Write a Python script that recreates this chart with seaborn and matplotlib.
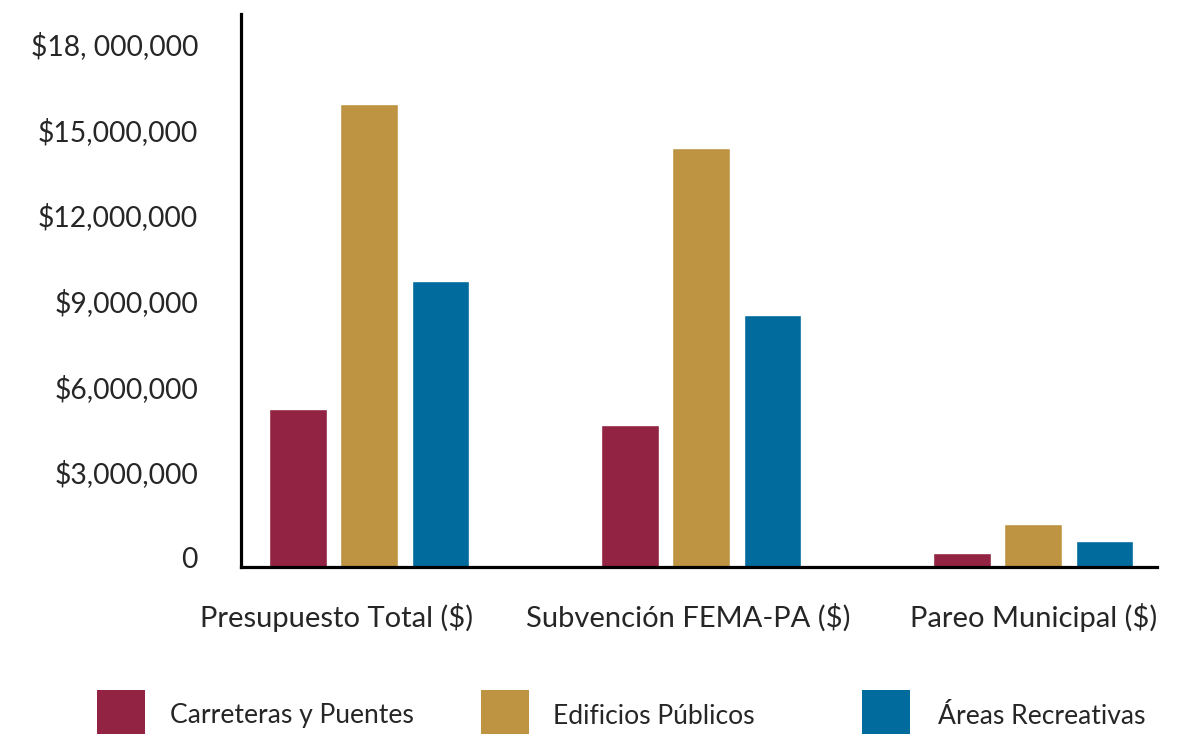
import numpy as np
import pandas as pd
import matplotlib
matplotlib.use("Agg")
import matplotlib.pyplot as plt
import matplotlib.transforms as mtransforms
from matplotlib.patches import Rectangle
import seaborn as sns

# data
categories = ["Presupuesto Total ($)", "Subvención FEMA-PA ($)", "Pareo Municipal ($)"]
series = ["Carreteras y Puentes", "Edificios Públicos", "Áreas Recreativas"]
carreteras = [5540000, 4980000, 490000]
edificios = [16230000, 14690000, 1510000]
recreativas = [10020000, 8830000, 910000]
colors = ["#922342", "#BE9443", "#006B9C"]

ytick_vals = [0, 3000000, 6000000, 9000000, 12000000, 15000000, 18000000]
ytick_labels = ["0", "$3,000,000", "$6,000,000", "$9,000,000",
                "$12,000,000", "$15,000,000", "$18, 000,000"]

# long format for seaborn
rows = []
for name, vals in zip(series, [carreteras, edificios, recreativas]):
    for cat, v in zip(categories, vals):
        rows.append({"categoria": cat, "serie": name, "valor": v})
df = pd.DataFrame(rows)

sns.set_style("white")
plt.rcParams['font.family'] = ['Lato', 'DejaVu Sans']
fs_y = 20.3
fs_x = 21
fs_leg = 19.1

W, H = 1195, 734
fig = plt.figure(figsize=(W / 100, H / 100), dpi=100)
ax = fig.add_axes([0.2017, 0.2275, 0.7665, 0.7535])

sns.barplot(data=df, x="categoria", y="valor", hue="serie", order=categories,
            hue_order=series, palette=colors, width=0.645, gap=0.19,
            saturation=1, legend=False, ax=ax)

ax.set_xlim(-0.386, 2.373)
ax.set_ylim(0, 19380000)
ax.set_yticks(ytick_vals)
ax.set_yticklabels(ytick_labels, fontsize=fs_y)
ax.set_xlabel("")
ax.set_ylabel("")
ax.tick_params(axis="y", length=0, pad=31)
ax.tick_params(axis="x", length=0, pad=26, labelsize=fs_x)

# the labels in the original sit a bit above the gridline positions
for lab in ax.get_yticklabels():
    lab.set_transform(lab.get_transform() + mtransforms.ScaledTranslation(0, 9.5 / 100, fig.dpi_scale_trans))
shifts = [-33, -13, 0]
for lab, dx in zip(ax.get_xticklabels(), shifts):
    lab.set_transform(lab.get_transform() + mtransforms.ScaledTranslation(dx / 100, 0, fig.dpi_scale_trans))

for side in ["top", "right"]:
    ax.spines[side].set_visible(False)
for side in ["left", "bottom"]:
    ax.spines[side].set_linewidth(2.3)
    ax.spines[side].set_color("black")

# legend drawn by hand: big square swatches running off the bottom edge
swatch_x = [97, 481, 862]
label_x = [170, 553, 938]
for name, c, sx, lx in zip(series, colors, swatch_x, label_x):
    fig.add_artist(Rectangle((sx / W, 1 - 738 / H), 48 / W, 48 / H,
                             transform=fig.transFigure, facecolor=c, edgecolor="none"))
    fig.text(lx / W, 1 - 716 / H, name, fontsize=fs_leg, ha="left", va="center")

plt.savefig("out.png", dpi=100)
